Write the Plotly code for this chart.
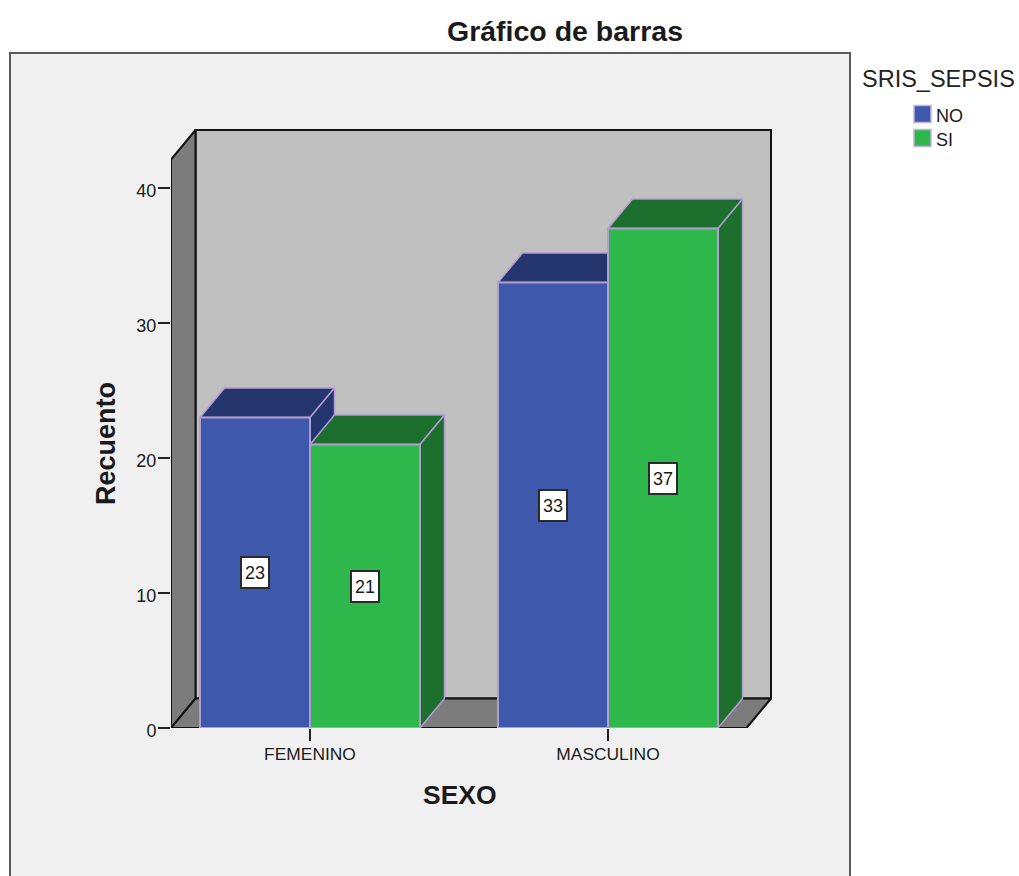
import plotly.graph_objects as go

# ---- data ----
CATEGORIES = ["FEMENINO", "MASCULINO"]
SERIES_NAMES = ["NO", "SI"]
VALUES_NO = [23, 33]
VALUES_SI = [21, 37]
Y_TICKS = [0, 10, 20, 30, 40]

# ---- geometry (pixels on the 1019x876 canvas) ----
W, H = 1019, 876
PX_LEFT, PX_RIGHT, PX_TOP, PX_BOTTOM = 171, 780, 120, 728   # axis extents (a little beyond the walls)
WALL_RIGHT, WALL_TOP = 771, 130
PX_PER_Y = 13.5
PX_PER_X = 298.0
PX_CAT0 = 310
DX = 24.5 / PX_PER_X
DY = 29.5 / PX_PER_Y
BAR_W = 110 / PX_PER_X
X_L = (PX_LEFT - PX_CAT0) / PX_PER_X
X_R_AXIS = (PX_RIGHT - PX_CAT0) / PX_PER_X
Y_T_AXIS = (PX_BOTTOM - PX_TOP) / PX_PER_Y
X_R = (WALL_RIGHT - PX_CAT0) / PX_PER_X
Y_T = (PX_BOTTOM - WALL_TOP) / PX_PER_Y

# ---- style ----
FONT = "Liberation Sans, Arial, sans-serif"
BLUE, BLUE_D = "#3E58AB", "#25366E"
GREEN, GREEN_D = "#2EB84C", "#1C6F2D"
EDGE = "#B39BD2"
WALL, SIDE = "#C0C0C0", "#7C7C7C"
PANEL = "#F0F0F0"
TEXT = "#1A1A1A"


def poly(xs, ys, fill, line, lw=2):
    return go.Scatter(
        x=xs + xs[:1], y=ys + ys[:1], mode="lines", fill="toself",
        fillcolor=fill, line=dict(color=line, width=lw),
        hoverinfo="skip", showlegend=False, cliponaxis=False,
    )


def xp(px):
    return (px - PX_LEFT) / (PX_RIGHT - PX_LEFT)


def yp(py):
    return (PX_BOTTOM - py) / (PX_BOTTOM - PX_TOP)


fig = go.Figure()

# walls and floor
fig.add_trace(poly([X_L + DX, X_R, X_R, X_L + DX], [DY, DY, Y_T, Y_T], WALL, "#111111"))
fig.add_trace(poly([X_L, X_L, X_L + DX, X_L + DX], [0, Y_T - DY, Y_T, DY], SIDE, "#111111"))
fig.add_trace(poly([X_L, X_R - DX, X_R, X_L + DX], [0, 0, DY, DY], SIDE, "#111111"))

# 3D bars
for i in range(len(CATEGORIES)):
    for j, (vals, front, dark) in enumerate([(VALUES_NO, BLUE, BLUE_D), (VALUES_SI, GREEN, GREEN_D)]):
        v = vals[i]
        x0 = i + (j - 1) * BAR_W
        x1 = x0 + BAR_W
        fig.add_trace(poly([x0, x1, x1 + DX, x0 + DX], [v, v, v + DY, v + DY], dark, EDGE, 1.5))
        fig.add_trace(poly([x1, x1, x1 + DX, x1 + DX], [0, v, v + DY, DY], dark, EDGE, 1.5))
        fig.add_trace(poly([x0, x1, x1, x0], [0, 0, v, v], front, EDGE, 2))

        fig.add_annotation(
            x=(x0 + x1) / 2, y=v / 2, text=str(v), showarrow=False,
            font=dict(family=FONT, size=18, color=TEXT),
            bgcolor="white", bordercolor="#2A2A2A", borderwidth=2,
            width=26, height=29, borderpad=0, xanchor="center", yanchor="middle",
        )

# outer panel
shapes = [
    dict(type="rect", xref="paper", yref="paper", layer="below",
         x0=xp(10), x1=xp(850), y0=yp(900), y1=yp(53),
         fillcolor=PANEL, line=dict(color="#5A5A5A", width=2)),
]

# legend key
for name, col, cy in zip(SERIES_NAMES, [BLUE, GREEN], [114, 138]):
    shapes.append(dict(type="rect", xref="paper", yref="paper",
                       x0=xp(914), x1=xp(931), y0=yp(cy + 8.5), y1=yp(cy - 8.5),
                       fillcolor=col, line=dict(color="#C4B2E0", width=1.5)))
    fig.add_annotation(xref="paper", yref="paper", x=xp(934), y=yp(cy + 1.5), text=name, showarrow=False,
                       xanchor="left", yanchor="middle", font=dict(family=FONT, size=18, color=TEXT))

fig.add_annotation(xref="paper", yref="paper", x=xp(860), y=yp(79), text="SRIS_SEPSIS", showarrow=False,
                   xanchor="left", yanchor="middle", font=dict(family=FONT, size=23.5, color="#222222"))
fig.add_annotation(xref="paper", yref="paper", x=xp(460), y=yp(795), text="<b>SEXO</b>", showarrow=False,
                   xanchor="center", yanchor="middle", font=dict(family=FONT, size=26.5, color=TEXT))
fig.add_annotation(xref="paper", yref="paper", x=xp(106), y=yp(444), text="<b>Recuento</b>", showarrow=False,
                   textangle=-90, xanchor="center", yanchor="middle", font=dict(family=FONT, size=27, color=TEXT))

fig.update_layout(
    width=W, height=H, autosize=False,
    margin=dict(l=PX_LEFT, r=W - PX_RIGHT, t=PX_TOP, b=H - PX_BOTTOM, pad=0, autoexpand=False),
    paper_bgcolor="white", plot_bgcolor="rgba(0,0,0,0)",
    showlegend=False, shapes=shapes,
    title=dict(text="<b>Gráfico de barras</b>", x=565 / W, xref="container", xanchor="center",
               y=1 - 31 / H, yref="container", yanchor="middle",
               font=dict(family=FONT, size=28.5, color=TEXT)),
    xaxis=dict(range=[X_L, X_R_AXIS], tickvals=list(range(len(CATEGORIES))), ticktext=CATEGORIES,
               showgrid=False, zeroline=False, showline=False,
               ticks="outside", ticklen=12, tickwidth=2, tickcolor="#222222", ticklabelstandoff=-2,
               tickfont=dict(family=FONT, size=17.4, color=TEXT)),
    yaxis=dict(range=[0, Y_T_AXIS], tickvals=Y_TICKS, showgrid=False, zeroline=False, showline=False,
               ticks="outside", ticklen=12, tickwidth=2, tickcolor="#222222", ticklabelshift=3,
               ticklabelstandoff=-2,
               tickfont=dict(family=FONT, size=18, color=TEXT)),
)

fig.write_html("out.html", config=dict(displayModeBar=False),
               post_script="document.body.style.margin='0';document.body.style.overflow='hidden';")
